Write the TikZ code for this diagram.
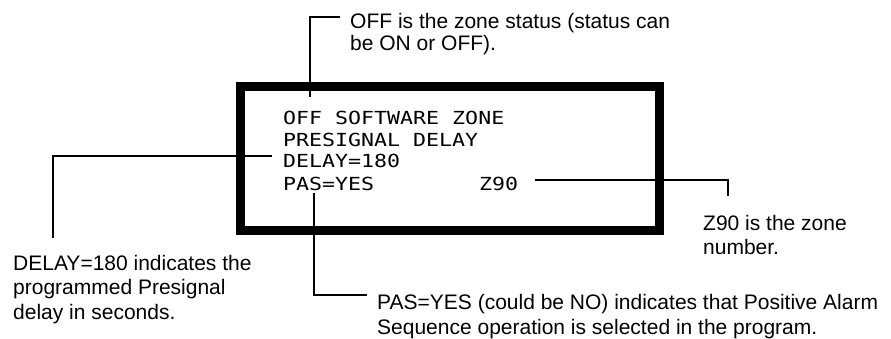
\documentclass[tikz,border=0pt]{standalone}
\usepackage{fontspec}
\setmainfont{Liberation Sans}
\newfontfamily\lcdfont[FakeStretch=1.2]{DejaVu Sans Mono}
\begin{document}
\begin{tikzpicture}[x=1pt,y=-1pt,
  lead/.style={draw=black,line width=1.4pt},
  callout/.style={anchor=base west,inner sep=0pt,align=left,font=\fontsize{21}{24.5}\selectfont},
  lcdtxt/.style={anchor=base west,inner sep=0pt,font=\lcdfont\fontsize{18}{21.7}\selectfont},
  frame/.style={draw=black,line width=9pt,line join=miter}]
\useasboundingbox (0,0) rectangle (891,339);
% LCD frame
\draw[frame] (240.5,86.5) rectangle (659,230);
% LCD text
\node[lcdtxt] (l1) at (283,125) {OFF SOFTWARE ZONE};
\node[lcdtxt] (l2) at (283,147) {PRESIGNAL DELAY};
\node[lcdtxt] (l3) at (283,168) {DELAY=180};
\node[lcdtxt] (l4) at (283,190) {PAS=YES};
\node[lcdtxt] (l4z) at (479,190) {Z90};
% callout texts (anchored at the baseline of the last line)
\node[callout,font=\fontsize{21}{22}\selectfont] (tOff) at (350,51) {OFF is the zone status (status can\\be ON or OFF).};
\node[callout] (tDelay) at (13,319) {DELAY=180 indicates the\\programmed Presignal\\delay in seconds.};
\node[callout] (tZ) at (703,254.5) {Z90 is the zone\\number.};
\node[callout] (tPas) at (377,334) {PAS=YES (could be NO) indicates that Positive Alarm\\Sequence operation is selected in the program.};
% leader end points
\coordinate (cOffA) at (310,97);
\coordinate (cOffB) at (340,17);
\coordinate (cDelA) at (272,156);
\coordinate (cDelB) at (53,238);
\coordinate (cPasA) at (314,193);
\coordinate (cPasB) at (367,295);
\coordinate (cZA) at (535,180);
\coordinate (cZB) at (728,196);
% leaders
\draw[lead] (cOffA) |- (cOffB);
\draw[lead] (cDelA) -| (cDelB);
\draw[lead] (cPasA) |- (cPasB);
\draw[lead] (cZA) -| (cZB);
\end{tikzpicture}
\end{document}
